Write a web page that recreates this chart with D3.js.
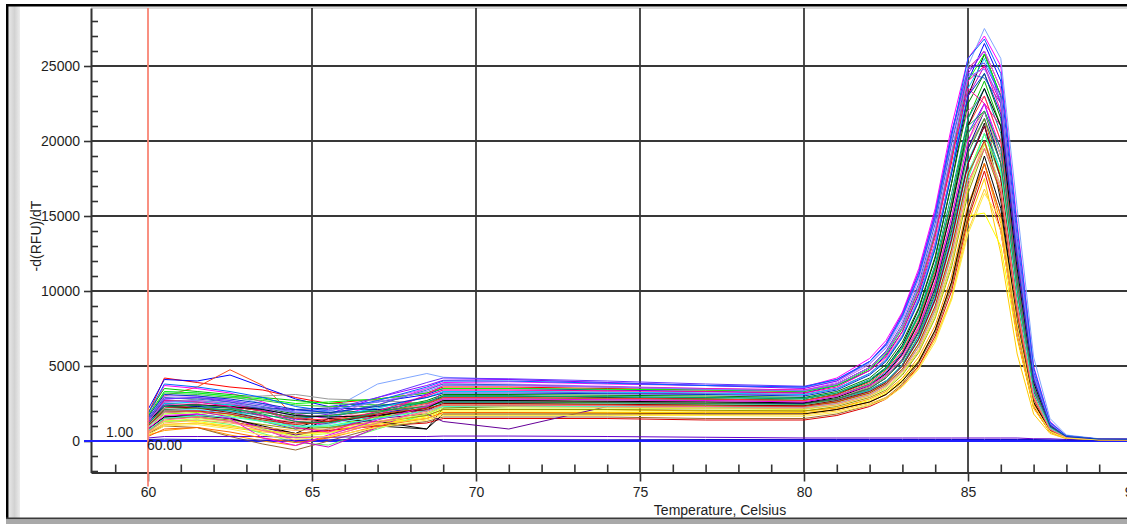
<!DOCTYPE html>
<html><head><meta charset="utf-8">
<script src="https://cdn.jsdelivr.net/npm/d3@7"></script>
<style>
body{margin:0;background:#fff;overflow:hidden}
svg{display:block}
text{font-family:"Liberation Sans",Arial,sans-serif;font-size:14px;fill:#1e1e1e}
</style>
</head><body>
<svg id="chart" width="1127" height="524"></svg>
<script>
// Temperature sample points (Celsius)
const temps = [60,60.5,61.5,62.5,63.5,64.5,65.5,67,68.5,69, 71,74,77,80, 81,82,82.5,83,83.5,84,84.5,85, 85.5, 86,86.5,87,87.5,88,89,95];

// -d(RFU)/dT per well, one array per well
const w01=[1800,4200,3900,3600,3400,2900,2500,2800,3200,3600, 3600,3500,3400,3300, 3800,4900,5900,7600,10200,13800,18600,24800, 26000, 23500,12500,4200,1100,300,120,60];
const w02=[2100,4100,4000,4400,3600,2800,2300,2600,3100,3500, 3500,3400,3300,3200, 3700,4700,5700,7300,9800,13200,18000,24000, 26500, 24000,13500,4600,1200,350,130,60];
const w03=[1400,3000,3600,4750,3700,1600,1300,1800,2300,2700, 2700,2600,2500,2500, 2800,3600,4300,5500,7500,10500,14500,19500, 21500, 17500,8500,2600,700,200,100,50];
const w04=[1600,3700,3500,3200,2600,1800,1500,2400,3500,3900, 3950,3800,3700,3600, 4200,5500,6700,8600,11500,15500,21000,25500, 27000, 25000,14500,5000,1300,350,120,60];
const w05=[1200,3300,3200,3000,2500,1900,2000,3800,4500,4250, 4100,3900,3700,3550, 4000,5200,6300,8200,11000,15000,20500,25000, 27500, 25500,15500,5600,1500,400,150,60];
const w06=[1900,3500,3300,3100,2900,2700,2500,2400,2500,2900, 2900,2800,2800,2700, 3100,4000,4800,6200,8400,11600,16000,21500, 24000, 21000,11000,3600,900,250,100,50];
const w07=[1500,2500,2400,2300,2000,1500,1300,1600,2400,3000, 3000,2900,2800,2700, 3100,4000,4900,6400,8800,12200,17200,23000, 25800, 23000,12000,4000,1000,300,120,50];
const w08=[900,1900,2000,2100,1700,900,1500,1000,800,2200, 2300,2300,2300,2400, 2700,3400,4000,5100,7000,9800,14000,18500, 21200, 16000,7800,2500,800,250,100,50];
const w09=[1300,2800,2900,2600,2100,1400,1800,2900,3700,4050, 4100,3900,3700,3500, 4000,5300,6500,8500,11300,15200,20500,24500, 26000, 22500,12500,4300,1100,300,120,60];
const w10=[800,2200,2300,2000,1500,1000,900,1500,2200,2600, 2600,2500,2450,2400, 2700,3400,4000,5100,7000,9700,13800,18700, 21000, 18000,9800,3400,900,250,100,50];
const w11=[500,1100,1200,900,600,500,700,1200,1500,1900, 1900,1900,1900,1900, 2100,2600,3100,3900,5000,6800,9500,14500, 17500, 12500,5800,1800,500,150,80,40];
const w12=[700,1400,1300,1000,700,400,600,1100,1600,2000, 2000,2000,2000,2000, 2200,2700,3200,4100,5400,7400,10500,15000, 15200, 13000,6800,2200,600,200,80,40];
const w13=[400,700,900,400,0,-300,300,1200,1700,2100, 2100,2100,2000,2000, 2200,2800,3300,4200,5600,7700,11000,15800, 18500, 14500,7000,2200,600,200,80,40];
const w14=[600,1500,1600,1300,900,500,700,1000,1200,1500, 1500,1500,1400,1400, 1700,2300,2800,3700,5000,7000,10000,14800, 18000, 14000,7000,2300,600,200,80,40];
const w15=[500,1000,900,300,-200,-600,0,900,1300,1600, 1600,1600,1500,1500, 1800,2400,2900,3800,5200,7200,10300,15000, 18500, 15000,7500,2500,700,200,80,40];
const w16=[700,1300,1400,1100,500,-100,-270,800,1800,2300, 2300,2300,2250,2200, 2500,3100,3700,4700,6300,8700,12400,17500, 20500, 17500,9500,3200,800,250,100,50];
const w17=[1500,2600,2800,2900,3000,3100,2800,2700,2500,2700, 2700,2600,2600,2500, 2800,3600,4300,5500,7400,10300,14500,19500, 21500, 18500,10200,3500,900,250,100,50];
const w18=[1100,2400,2500,2200,1600,1100,1400,2200,3000,3400, 3400,3300,3200,3100, 3500,4500,5500,7100,9600,13200,18200,22000, 23000, 20000,11500,4000,1000,300,120,50];
const w19=[1300,2700,2600,2400,2200,1800,1900,2000,2700,3100, 3100,3050,3000,2900, 3300,4200,5100,6600,8900,12300,17200,22500, 24500, 21500,11800,4000,1000,300,120,50];
const w20=[1000,2000,2100,1800,1300,800,1200,1800,2400,2800, 2800,2750,2700,2650, 3000,3800,4600,5900,8000,11100,15500,20500, 22500, 19000,10200,3400,900,250,100,50];
const w21=[800,1600,1800,1500,900,400,800,1500,1800,1300, 800,2300,2300,2300, 2600,3300,3900,5000,6800,9500,13500,18500, 21000, 17500,9200,3000,800,250,100,50];
const w22=[200,300,300,300,300,250,250,300,300,330, 330,300,250,200, 200,200,200,200,200,200,200,200, 200, 200,200,150,150,100,100,100];
const w23=[100,120,100,80,60,60,80,100,100,100, 100,80,100,100, 100,100,100,100,100,100,100,100, 100, 100,100,100,80,60,60,60];
const w24=[900,1800,1900,1700,1300,900,1000,1600,2000,2400, 2400,2400,2350,2300, 2600,3200,3800,4800,6500,9000,12800,17800, 20500, 17800,9800,3300,900,250,100,50];
const w25=[1200,2300,2200,2000,1700,1500,1700,2100,2600,3000, 3000,2950,2900,2850, 3200,4100,4900,6300,8500,11800,16500,21500, 23500, 20500,11000,3700,950,280,110,50];
const w26=[1000,2100,2000,1600,800,0,-400,900,2300,3300, 3300,3200,3150,3100, 3500,4500,5400,7000,9400,13000,18000,23000, 25000, 22500,12500,4200,1100,300,120,50];
const w27=[1600,3200,3100,2900,2700,2400,2300,2300,2600,2800, 2850,2800,2750,2700, 3000,3800,4500,5800,7900,11000,15500,20500, 22000, 19000,10300,3500,900,260,100,50];
const w28=[1100,2500,2600,2400,2100,1700,1600,2200,2900,3300, 3300,3250,3200,3100, 3500,4500,5400,7000,9500,13000,18000,23500, 25500, 23000,13000,4400,1150,320,120,50];
const w29=[700,1500,1600,1400,1100,800,900,1300,1700,2100, 2100,2100,2050,2000, 2300,2900,3400,4400,5900,8200,11600,16500, 19500, 16500,8600,2800,750,220,90,40];
const w30=[300,800,900,600,200,-100,200,1000,1500,1900, 1900,1850,1800,1800, 2100,2600,3100,4000,5300,7400,10600,15500, 18500, 15000,7600,2500,700,200,80,40];
const w31=[1400,3000,3000,2700,2200,1600,1700,2700,3500,3800, 3800,3650,3500,3400, 3900,5100,6200,8000,10800,14800,20000,24800, 26000, 23500,13200,4500,1200,330,130,60];
const w32=[1300,2400,2300,2200,2200,2100,2200,2100,2000,2600, 2600,2550,2500,2500, 2800,3500,4200,5400,7300,10200,14500,19500, 22000, 18500,9800,3300,850,250,100,50];
const w33=[900,1900,2000,1800,1500,1300,1500,1900,2400,2800, 2800,2750,2700,2650, 3000,3700,4400,5700,7700,10700,15000,20000, 22000, 19000,10300,3500,900,260,100,50];
const w34=[1700,3300,3200,3000,2800,2500,2600,2800,3200,3500, 3500,3450,3400,3300, 3700,4800,5800,7500,10100,13900,19000,24000, 25800, 23000,12800,4300,1100,320,120,60];
const w35=[800,1600,1700,1500,1000,500,1500,1300,800,1800, 1800,1800,1800,1800, 2100,2600,3100,4000,5300,7400,10600,15500, 19000, 15500,8000,2600,700,200,80,40];
const w36=[1000,2200,2400,2300,2000,1500,1400,1900,2500,2900, 2900,2850,2800,2700, 3100,3900,4700,6000,8100,11300,15900,21000, 23000, 20000,10800,3600,950,280,110,50];
const w37=[1500,2900,2800,2600,2300,1900,1800,2400,3400,3800, 3750,3600,3450,3350, 3800,4900,6000,7800,10500,14500,19800,24500, 24200, 22500,12800,4400,1150,320,120,60];
const w38=[600,1300,1500,1300,800,300,500,1200,1800,2200, 2200,2200,2150,2100, 2400,3000,3500,4500,6000,8300,11800,16800, 19800, 16800,8800,2900,760,220,90,40];
const w39=[1200,2600,2700,2500,2000,1300,1100,2000,3000,3400, 3400,3350,3300,3200, 3600,4700,5600,7300,9900,13600,18800,23500, 22500, 21000,12000,4100,1050,300,120,50];
const w40=[900,2000,2100,1900,1400,900,1100,1700,2300,2500, 2500,2500,2450,2400, 2700,3300,3900,5000,6700,9300,13200,18000, 20000, 17000,9200,3100,800,240,100,50];
const w41=[1100,2300,2200,1900,1500,1200,1300,1700,2100,2500, 2500,2450,2400,2350, 2700,3300,3900,5000,6800,9400,13400,18500, 21000, 17500,9400,3100,800,240,100,50];
const w42=[600,1100,1200,1000,700,500,600,1100,1500,1800, 1800,1800,1750,1750, 2000,2500,2900,3700,4900,6800,9600,14000, 16800, 14000,7000,2200,600,180,80,40];
const w43=[1400,2800,2900,2700,2400,2000,2100,2900,3900,4200, 4150,4000,3800,3650, 4100,5300,6500,8400,11200,15200,20600,24800, 25200, 23000,13000,4400,1150,320,120,60];
const w44=[1000,2100,2200,2100,1900,1600,1700,2000,2300,2600, 2600,2550,2500,2450, 2800,3500,4200,5300,7200,10000,14200,19200, 21500, 18500,10000,3400,880,260,100,50];
const w45=[500,1200,1400,1200,900,700,800,1300,1900,2300, 2300,2250,2200,2150, 2400,3000,3600,4600,6100,8500,12000,17000, 20000, 17000,9000,3000,780,230,90,40];
const w46=[1300,2300,2400,2300,2100,1700,1600,1700,2200,2700, 2700,2650,2600,2550, 2900,3700,4500,5800,7900,11000,15500,21000, 23500, 21000,11500,3900,1000,290,110,50];
const w47=[800,1700,1800,1500,200,-300,400,1400,2300,2800, 2800,2750,2700,2600, 3000,3700,4400,5700,7600,10600,14900,20000, 22500, 19500,10500,3500,900,260,100,50];
const w48=[1800,3800,3600,3300,2900,2300,2000,2700,3600,4000, 4000,3850,3700,3600, 4100,5300,6400,8300,11000,14900,20300,25500, 26800, 24500,14200,4900,1250,350,130,60];
const w49=[1200,2700,2600,2300,1700,900,600,1700,3100,3700, 3700,3600,3500,3400, 3800,4900,5900,7600,10200,14000,19200,24000, 25000, 22000,12000,4100,1050,300,120,50];
const w50=[700,1500,1700,1600,1300,1000,1000,1500,2000,2300, 2350,2300,2300,2250, 2500,3100,3700,4700,6300,8800,12500,17500, 20500, 18000,9600,3200,850,250,100,50];
const w51=[1000,2000,2000,1800,1400,1100,1300,1800,2200,2400, 2400,2400,2300,2300, 2600,3200,3800,4800,6500,9000,12800,17800, 20000, 16500,8600,2800,750,220,90,40];
const w52=[1300,2600,2700,2500,2200,1900,2000,2600,3300,3700, 3700,3600,3450,3350, 3800,4900,5900,7600,10300,14100,19300,24300, 24800, 22800,13000,4400,1150,320,120,60];
const w53=[1100,2300,2400,2200,1800,1300,1200,1900,2600,3000, 3000,2950,2900,2800, 3200,4000,4800,6200,8300,11500,16000,21000, 22000, 19500,10600,3600,950,280,110,50];
const w54=[600,1400,1600,1300,700,200,300,1200,2000,2400, 2400,2350,2300,2250, 2500,3100,3700,4700,6300,8800,12500,17300, 19500, 16800,8900,2900,780,230,90,40];
const w55=[400,1000,1100,800,400,100,300,900,1400,1700, 1700,1700,1700,1650, 1900,2400,2800,3600,4800,6600,9400,13800, 16500, 14800,7800,2400,650,190,80,40];
const w56=[1600,3100,3000,2800,2500,2100,1900,2300,2900,3200, 3200,3150,3100,3000, 3400,4400,5300,6900,9300,12800,17800,23000, 24500, 21800,12000,4100,1050,300,120,50];

const wellColors = ["#ff0000","#0000ff","#ff4a1a","#ff00ff","#7fa6ff","#00c000","#000000","#111111",
  "#9900ff","#00cccc","#ffcc00","#ffff00","#ff9900","#dd0000","#996633","#66ff66",
  "#999999","#ff66cc","#008000","#3333ff","#660099","#6600cc","#1010cc","#99ff00",
  "#009999","#cc00cc","#33cc33","#00ccff","#999900","#ff6600","#cc66ff","#000099",
  "#ff9999","#00ff00","#000000","#ff3333","#3366cc","#ccff33","#ff0099","#66ffff",
  "#990000","#ffcc33","#6633ff","#339933","#ffaa55","#000000","#ee00ee","#0066ff",
  "#ff00aa","#33ffcc","#cc3300","#8080ff","#00aa55","#ff6699","#ffee44","#0033cc"];

const wells = [w01,w02,w03,w04,w05,w06,w07,w08,w09,w10,w11,w12,w13,w14,w15,w16,
  w17,w18,w19,w20,w21,w22,w23,w24,w25,w26,w27,w28,w29,w30,w31,w32,
  w33,w34,w35,w36,w37,w38,w39,w40,w41,w42,w43,w44,w45,w46,w47,w48,
  w49,w50,w51,w52,w53,w54,w55,w56];

const xMajorTicks = [60,65,70,75,80,85,90];
const xMinorTicks = [59,61,62,63,64,66,67,68,69,71,72,73,74,76,77,78,79,81,82,83,84,86,87,88,89,91];
const yMajorTicks = [0,5000,10000,15000,20000,25000];
const yMinorTicks = [-2000,-1000,1000,2000,3000,4000,6000,7000,8000,9000,11000,12000,13000,14000,16000,17000,18000,19000,21000,22000,23000,24000,26000,27000,28000];
const xTitle = "Temperature, Celsius";
const yTitle = "-d(RFU)/dT";
const thresholdValue = 0, thresholdLabel = "1.00";
const beginTemp = 60, beginLabel = "60.00";

// ---- layout ----
const svg = d3.select("#chart");
const W = 1127, H = 524;
const plotL = 91, plotT = 8, plotB = 472.5, plotR = 1160;

const x0 = d3.scaleLinear().domain([60, 90]).range([148, 1132]);
const x = d3.scaleLinear().domain([x0.invert(plotL), x0.invert(plotR)]).range([plotL, plotR]);
const y = d3.scaleLinear().domain([-2100, 28867]).range([plotB, plotT]);

// frame decorations
const defs = svg.append("defs");
const g1 = defs.append("linearGradient").attr("id","strip").attr("x1","0").attr("x2","1");
g1.append("stop").attr("offset","0").attr("stop-color","#e6e6e6");
g1.append("stop").attr("offset","0.5").attr("stop-color","#d2d2d2");
g1.append("stop").attr("offset","1").attr("stop-color","#ececec");
svg.append("rect").attr("x",0).attr("y",0).attr("width",W).attr("height",H).attr("fill","#fff");
svg.append("rect").attr("x",9).attr("y",6).attr("width",11).attr("height",512).attr("fill","url(#strip)");
svg.append("rect").attr("x",6).attr("y",4).attr("width",W).attr("height",2.5).attr("fill","#000");
svg.append("rect").attr("x",6).attr("y",4).attr("width",2.5).attr("height",515).attr("fill","#000");
svg.append("rect").attr("x",6).attr("y",517.5).attr("width",W).attr("height",2).attr("fill","#3a3a3a");
svg.append("rect").attr("x",6).attr("y",519.5).attr("width",W).attr("height",5).attr("fill","#a9a9a9");
// plot top border
svg.append("line").attr("x1",plotL).attr("x2",W).attr("y1",plotT).attr("y2",plotT)
  .attr("stroke","#b5b5b5").attr("stroke-width",1);

// grid
const grid = svg.append("g");
grid.selectAll("line.h").data(yMajorTicks.filter(d=>d!==0)).join("line")
  .attr("x1",plotL).attr("x2",plotR).attr("y1",d=>y(d)).attr("y2",d=>y(d))
  .attr("stroke","#383838").attr("stroke-width",1.8);
grid.selectAll("line.v").data(xMajorTicks.filter(d=>d!==beginTemp)).join("line")
  .attr("x1",d=>x(d)).attr("x2",d=>x(d)).attr("y1",plotT).attr("y2",plotB)
  .attr("stroke","#383838").attr("stroke-width",1.8);

// axes
const yAxis = svg.append("g").attr("transform",`translate(${plotL},0)`)
  .call(d3.axisLeft(y).tickValues(yMajorTicks).tickSize(7).tickSizeOuter(0).tickPadding(4).tickFormat(d3.format("d")));
const yMinor = svg.append("g").attr("transform",`translate(${plotL},0)`)
  .call(d3.axisRight(y).tickValues(yMinorTicks).tickSize(7).tickSizeOuter(0).tickFormat(""));
const xAxis = svg.append("g").attr("transform",`translate(0,${plotB})`)
  .call(d3.axisBottom(x).tickValues(xMajorTicks).tickSize(9).tickSizeOuter(0).tickPadding(6).tickFormat(d3.format("d")));
const xMinor = svg.append("g").attr("transform",`translate(0,${plotB})`)
  .call(d3.axisTop(x).tickValues(xMinorTicks).tickSize(8).tickSizeOuter(0).tickFormat(""));
[yAxis,yMinor,xAxis,xMinor].forEach(a=>{
  a.select(".domain").attr("stroke","#333").attr("stroke-width",2);
  a.selectAll(".tick line").attr("stroke","#333").attr("stroke-width",1.6);
  a.selectAll(".tick text").attr("fill","#1e1e1e").style("font-size","14px")
    .style("font-family","'Liberation Sans',Arial,sans-serif");
});
yMinor.select(".domain").remove();
xMinor.select(".domain").remove();

// threshold line (blue)
svg.append("line").attr("x1",plotL-7).attr("x2",plotR).attr("y1",y(thresholdValue)).attr("y2",y(thresholdValue))
  .attr("stroke","#1f1fff").attr("stroke-width",2.2);

// curves
const line = d3.line().x((d,i)=>x(temps[i])).y(d=>y(d));
svg.append("g").attr("fill","none").attr("stroke-width",1).attr("stroke-linejoin","round")
  .selectAll("path").data(wells).join("path")
  .attr("d",d=>line(d)).attr("stroke",(d,i)=>wellColors[i]);

// begin temperature line (red)
svg.append("line").attr("x1",x(beginTemp)).attr("x2",x(beginTemp)).attr("y1",plotT).attr("y2",plotB+14)
  .attr("stroke","#f98474").attr("stroke-width",1.8);

// labels
svg.append("text").attr("x",106).attr("y",y(thresholdValue)-4).text(thresholdLabel);
svg.append("text").attr("x",x(beginTemp)-1).attr("y",y(thresholdValue)+9).text(beginLabel);
svg.append("text").attr("x",720).attr("y",515).attr("text-anchor","middle").text(xTitle);
svg.append("text").attr("transform","translate(41,236) rotate(-90)").attr("text-anchor","middle").text(yTitle);
</script>
</body></html>
